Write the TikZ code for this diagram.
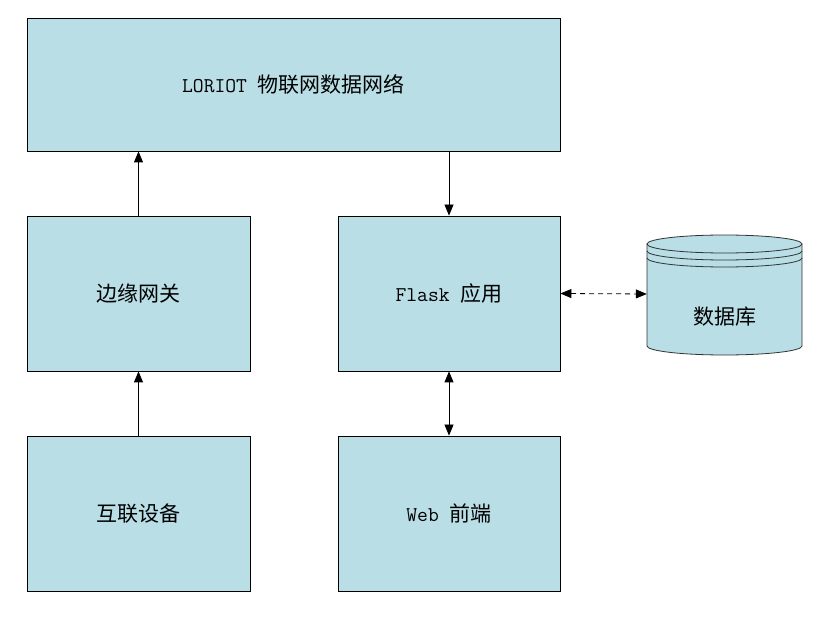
\documentclass[tikz,border=0pt]{standalone}
\usepackage{fontspec}
\newfontfamily\cjk{Noto Sans CJK SC}
\usetikzlibrary{arrows.meta}
\definecolor{boxblue}{HTML}{B9DEE6}
\tikzset{
	block/.style={draw, fill=boxblue, line width=0.8pt, inner sep=0pt, font=\fontsize{21}{24}\selectfont},
	link/.style={line width=0.8pt, -{Triangle[length=11pt, width=9pt]}},
	twolink/.style={line width=0.8pt, {Triangle[length=11pt, width=9pt]}-{Triangle[length=11pt, width=9pt]}}
}

\begin{document}
\begin{tikzpicture}[x=1pt, y=-1pt]
	\useasboundingbox (0,0) rectangle (830,617);
% Boxes
	\node[block, minimum width=533pt, minimum height=133pt] (loriot) at (293.5,84.5) {\ttfamily LORIOT \cjk 物联网数据网络};
	\node[block, minimum width=223pt, minimum height=155pt] (gateway) at (138.5,293.5) {\cjk 边缘网关};
	\node[block, minimum width=222pt, minimum height=155pt] (flask) at (449,293.5) {\ttfamily Flask \cjk 应用};
	\node[block, minimum width=223pt, minimum height=155pt] (device) at (138.5,513.5) {\cjk 互联设备};
	\node[block, minimum width=222pt, minimum height=155pt] (web) at (449,513.5) {\ttfamily Web \cjk 前端};
% Database
	\fill[boxblue] (647,244) -- (647,346) arc[start angle=180, end angle=360, x radius=77.5, y radius=-9] -- (802,244) arc[start angle=0, end angle=180, x radius=77.5, y radius=-9] -- cycle;
	\draw[gray!40!black, line width=0.8pt] (647,244) -- (647,346) arc[start angle=180, end angle=360, x radius=77.5, y radius=-9] -- (802,244);
	\draw[gray!40!black, line width=0.8pt, fill=boxblue] (724.5,244) ellipse[x radius=77.5, y radius=9];
	\draw[gray!40!black, line width=0.8pt] (647,251) arc[start angle=180, end angle=360, x radius=77.5, y radius=-9];
	\draw[gray!40!black, line width=0.8pt] (647,258) arc[start angle=180, end angle=360, x radius=77.5, y radius=-9];
	\node[minimum width=155pt, minimum height=123pt, inner sep=0pt] (db) at (724.5,294) {};
	\node (dblabel) at (724.5,317) {\fontsize{21}{24}\selectfont\cjk 数据库};
% Connectors
	\draw[link] (gateway.north) -- (gateway.north |- loriot.south);
	\draw[link] (device.north) -- (gateway.south);
	\draw[link] (flask.north |- loriot.south) -- (flask.north);
	\draw[twolink] (flask.south) -- (web.north);
	\draw[twolink, dash pattern=on 5pt off 4pt] (flask.east) -- (db.west);
\end{tikzpicture}
\end{document}
